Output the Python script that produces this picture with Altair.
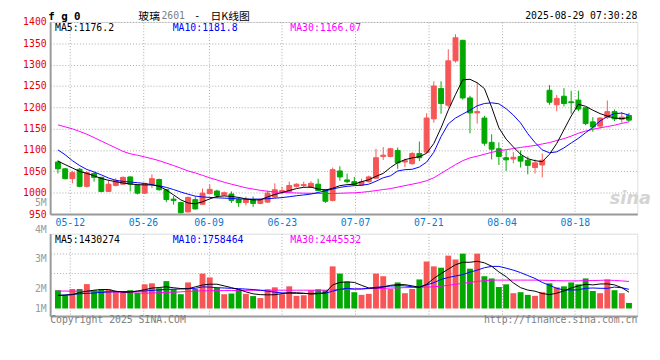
import altair as alt
import pandas as pd

# ---------------- data ----------------
idx = list(range(80))

opens = [1072, 1056, 1033, 1055, 1015, 1045, 1036, 1003, 1017, 1020,
         1037, 1018, 999, 1020, 1031, 1007, 985, 977, 955, 984,
         973, 998, 1004, 995, 997, 984, 977, 984, 975, 978,
         990, 1003, 1003, 1015, 1017, 1013, 1020, 1007, 982, 1051,
         1030, 1026, 1018, 1026, 1034, 1085, 1085, 1099, 1072, 1068,
         1092, 1095, 1173, 1244, 1205, 1309, 1357, 1222, 1187, 1175,
         1118, 1103, 1082, 1079, 1085, 1076, 1059, 1065, 1240, 1206,
         1226, 1213, 1217, 1199, 1166, 1156, 1176, 1190, 1172, 1181]
highs = [1076, 1058, 1051, 1058, 1050, 1048, 1037, 1030, 1034, 1038,
         1038, 1020, 1023, 1043, 1033, 1009, 992, 979, 991, 991,
         1010, 1020, 1007, 1003, 1003, 990, 991, 991, 986, 1005,
         1022, 1014, 1026, 1022, 1026, 1027, 1033, 1009, 1059, 1062,
         1045, 1037, 1033, 1040, 1103, 1107, 1105, 1106, 1080, 1095,
         1120, 1186, 1261, 1261, 1336, 1371, 1358, 1227, 1258, 1180,
         1137, 1118, 1099, 1095, 1099, 1085, 1078, 1092, 1252, 1229,
         1245, 1239, 1239, 1200, 1177, 1177, 1216, 1195, 1189, 1187]
lows = [1045, 1031, 1022, 1013, 1012, 1026, 1001, 1002, 1015, 1019,
        1003, 996, 997, 1011, 1005, 978, 972, 952, 954, 961,
        972, 996, 988, 993, 976, 967, 970, 967, 973, 977,
        988, 996, 1001, 1012, 1012, 1011, 1003, 976, 980, 1028,
        1022, 1017, 1016, 1024, 1032, 1077, 1083, 1056, 1060, 1066,
        1074, 1093, 1164, 1185, 1200, 1305, 1218, 1139, 1162, 1110,
        1078, 1065, 1051, 1069, 1059, 1043, 1045, 1036, 1206, 1191,
        1202, 1185, 1191, 1158, 1143, 1150, 1173, 1168, 1164, 1166]
closes = [1056, 1033, 1047, 1015, 1047, 1036, 1003, 1020, 1028, 1036,
          1020, 999, 1022, 1033, 1007, 984, 982, 953, 989, 962,
          999, 1008, 994, 1000, 982, 977, 984, 975, 984, 999,
          1007, 1005, 1017, 1020, 1019, 1022, 1005, 980, 1054, 1037,
          1026, 1019, 1026, 1037, 1082, 1088, 1103, 1070, 1075, 1092,
          1082, 1175, 1250, 1209, 1309, 1363, 1222, 1187, 1190, 1116,
          1102, 1085, 1077, 1083, 1074, 1064, 1070, 1076, 1212, 1221,
          1209, 1211, 1196, 1162, 1154, 1175, 1190, 1173, 1177, 1170]

ma5 = [1074.0, 1065.9, 1057.9, 1049.9, 1045.3, 1039.6, 1033.4, 1029.2, 1025.8, 1022.8,
       1020.5, 1018.9, 1018.4, 1018.2, 1015.4, 1006.3, 994.8, 983.3, 976.0, 974.1,
       978.7, 985.6, 991.3, 992.5, 991.3, 989.0, 985.6, 983.3, 983.3, 990.2,
       995.9, 1000.5, 1005.1, 1009.7, 1012.7, 1013.1, 1008.6, 1006.3, 1010.4, 1016.6,
       1018.9, 1020.0, 1025.8, 1030.4, 1038.4, 1045.3, 1059.1, 1070.5, 1077.4, 1081.6,
       1084.3, 1092.4, 1115.3, 1152.0, 1193.4, 1230.1, 1264.5, 1265.7, 1257.6, 1243.9,
       1200.3, 1152.0, 1125.6, 1107.3, 1090.1, 1079.7, 1075.1, 1072.8, 1090.1, 1115.3,
       1147.5, 1179.6, 1207.1, 1202.5, 1193.4, 1185.3, 1179.6, 1175.0, 1173.4, 1176.2]
ma10 = [1100.4, 1088.9, 1075.1, 1063.7, 1054.5, 1048.7, 1041.8, 1034.5, 1029.2, 1026.5,
        1025.1, 1023.5, 1021.6, 1018.9, 1016.1, 1012.5, 1007.4, 1001.7, 996.6, 992.0,
        990.2, 989.0, 988.1, 987.4, 986.5, 985.6, 985.1, 985.1, 985.1, 986.1,
        987.2, 988.6, 990.7, 992.9, 994.8, 996.9, 1000.5, 1004.4, 1008.8, 1012.5,
        1015.0, 1016.6, 1017.5, 1020.0, 1026.9, 1035.0, 1039.6, 1051.0, 1054.0, 1054.9,
        1060.2, 1071.7, 1094.7, 1131.4, 1161.2, 1175.0, 1184.2, 1193.4, 1203.7, 1209.0,
        1210.6, 1208.3, 1196.8, 1181.9, 1163.5, 1138.3, 1117.6, 1100.4, 1093.5, 1095.8,
        1105.0, 1116.5, 1127.5, 1140.6, 1153.2, 1168.1, 1178.4, 1185.3, 1186.5, 1181.8]
ma30 = [1158.9, 1154.3, 1149.7, 1143.5, 1137.1, 1129.1, 1121.0, 1113.0, 1105.0, 1096.9,
        1091.2, 1087.8, 1083.9, 1079.7, 1075.1, 1069.4, 1063.7, 1057.5, 1051.0, 1046.4,
        1040.7, 1035.0, 1029.9, 1024.6, 1020.0, 1015.9, 1011.5, 1008.6, 1005.6, 1003.5,
        1001.7, 1001.0, 1000.1, 999.4, 998.9, 998.7, 998.5, 998.2, 998.2, 998.7,
        999.4, 999.8, 1001.0, 1002.8, 1005.1, 1007.4, 1009.7, 1013.1, 1016.6, 1020.0,
        1023.5, 1028.1, 1035.0, 1045.3, 1055.6, 1065.9, 1075.1, 1081.6, 1085.5, 1090.1,
        1094.6, 1098.1, 1100.8, 1103.4, 1106.1, 1108.4, 1110.7, 1114.2, 1117.6, 1122.2,
        1126.8, 1132.5, 1139.4, 1144.5, 1148.6, 1152.0, 1155.0, 1158.2, 1162.4, 1166.07]

# volume in millions
vols = [1.65, 1.18, 1.76, 1.76, 2.20, 1.65, 1.73, 1.73, 1.56, 1.56,
        1.65, 1.41, 2.18, 2.27, 1.82, 2.47, 1.73, 1.29, 2.35, 1.76,
        3.15, 2.80, 1.85, 1.29, 1.35, 1.73, 1.32, 1.12, 0.94, 1.73,
        1.91, 1.29, 2.00, 1.14, 1.20, 1.65, 1.73, 1.65, 3.80, 3.15,
        2.42, 1.47, 1.23, 1.32, 3.15, 2.91, 1.76, 2.35, 1.38, 1.76,
        2.62, 4.24, 3.80, 3.68, 4.77, 4.42, 4.95, 3.59, 4.95, 2.91,
        2.71, 1.94, 2.18, 1.38, 1.47, 1.23, 1.14, 1.47, 2.27, 1.91,
        2.00, 2.35, 2.18, 2.71, 1.58, 1.38, 2.62, 1.65, 1.38, 0.50]
vma5 = [1.18, 1.20, 1.25, 1.44, 1.56, 1.65, 1.71, 1.71, 1.56, 1.47,
        1.47, 1.58, 1.69, 1.84, 1.89, 1.96, 1.87, 1.80, 1.78, 1.95,
        2.12, 2.19, 2.19, 2.04, 1.88, 1.71, 1.50, 1.32, 1.25, 1.23,
        1.24, 1.34, 1.42, 1.42, 1.38, 1.30, 1.34, 1.42, 2.13, 2.35,
        2.40, 2.35, 2.09, 1.85, 1.84, 1.94, 2.09, 2.16, 2.15, 2.04,
        1.91, 2.18, 2.71, 3.15, 3.55, 3.95, 4.17, 4.17, 4.26, 4.12,
        3.81, 3.30, 2.87, 2.31, 1.88, 1.66, 1.56, 1.35, 1.25, 1.38,
        1.59, 1.85, 2.04, 2.18, 2.13, 2.21, 2.22, 2.13, 1.88, 1.47]
vma10 = [1.18, 1.22, 1.27, 1.33, 1.36, 1.40, 1.45, 1.49, 1.52, 1.53,
         1.53, 1.55, 1.58, 1.63, 1.68, 1.72, 1.74, 1.76, 1.79, 1.82,
         1.95, 1.93, 1.88, 1.85, 1.82, 1.79, 1.75, 1.71, 1.65, 1.56,
         1.47, 1.41, 1.38, 1.36, 1.35, 1.36, 1.37, 1.38, 1.56, 1.73,
         1.82, 1.76, 1.76, 1.82, 1.91, 1.97, 2.02, 2.07, 2.04, 1.96,
         1.91, 2.13, 2.33, 2.62, 2.80, 2.93, 3.06, 3.28, 3.46, 3.68,
         3.80, 3.80, 3.64, 3.46, 3.24, 2.97, 2.71, 2.35, 2.09, 1.82,
         1.67, 1.67, 1.69, 1.82, 1.85, 1.82, 1.82, 1.93, 1.87, 1.73]
vma30 = [1.58, 1.57, 1.56, 1.56, 1.55, 1.54, 1.53, 1.51, 1.49, 1.45,
         1.42, 1.40, 1.38, 1.40, 1.42, 1.45, 1.47, 1.50, 1.54, 1.58,
         1.59, 1.60, 1.61, 1.62, 1.62, 1.63, 1.63, 1.64, 1.64, 1.64,
         1.65, 1.65, 1.65, 1.65, 1.65, 1.65, 1.65, 1.65, 1.68, 1.71,
         1.73, 1.75, 1.77, 1.79, 1.80, 1.82, 1.84, 1.86, 1.88, 1.89,
         1.91, 1.93, 1.96, 2.02, 2.09, 2.18, 2.27, 2.35, 2.44, 2.51,
         2.56, 2.56, 2.56, 2.56, 2.56, 2.56, 2.56, 2.55, 2.53, 2.51,
         2.50, 2.49, 2.50, 2.51, 2.52, 2.54, 2.56, 2.53, 2.49, 2.44]

date_ticks = [1.64, 11.77, 20.84, 30.97, 41.11, 51.24, 61.37, 71.51]
date_labels = ["05-12", "05-26", "06-09", "06-23", "07-07", "07-21", "08-04", "08-18"]
price_ticks = [950, 1000, 1050, 1100, 1150, 1200, 1250, 1300, 1350, 1400]
vol_ticks = [6.75, 6.749, 4.48, 1.82, -0.035]
vol_tick_labels = ["5M", "4M", "3M", "2M", "1M"]
vol_grid = [4.92, 3.15]

# ---------------- styling ----------------
RED = "#f65656"
GREEN = "#00a800"
GRID = "#a8a8a8"
FRAME = "#9a9a9a"
BLUE_LBL = "#0a7ad2"
MONO = "DejaVu Sans Mono"
CJK = "Noto Sans CJK SC"

df = pd.DataFrame({"i": idx, "open": opens, "high": highs, "low": lows, "close": closes,
                   "vol": vols, "ma5": ma5, "ma10": ma10, "ma30": ma30,
                   "vma5": vma5, "vma10": vma10, "vma30": vma30})
df["dir"] = ["up" if c >= o else "down" for o, c in zip(opens, closes)]

color_scale = alt.Scale(domain=["up", "down"], range=[RED, GREEN])

# x label expression (ternary on midpoints)
expr = "'" + date_labels[-1] + "'"
for k in range(len(date_ticks) - 2, -1, -1):
    mid = (date_ticks[k] + date_ticks[k + 1]) / 2
    expr = f"datum.value < {mid:.3f} ? '{date_labels[k]}' : ({expr})"

vexpr = "datum.value > 6.7495 ? '{}' : datum.value > 6.7 ? '{}' : datum.value > 4 ? '{}' : datum.value > 1 ? '{}' : '{}'".format(*vol_tick_labels)

x_scale = alt.Scale(domain=[-0.4, 79.47], nice=False, zero=False)
x_axis_main = alt.Axis(values=date_ticks, labelExpr=expr, title=None, ticks=False,
                       labelColor=BLUE_LBL, labelFont=MONO, labelFontSize=10, labelPadding=4,
                       grid=True, gridColor=GRID, gridDash=[1, 2], domainColor=FRAME,
                       domainWidth=2, labelFlush=False, labelOverlap=False)
x_axis_vol = alt.Axis(values=date_ticks, labels=False, title=None, ticks=False,
                      grid=True, gridColor=GRID, gridDash=[1, 2], domainColor=FRAME,
                      domainWidth=2)
y_scale_main = alt.Scale(domain=[950, 1400], nice=False, zero=False)
y_axis_main = alt.Axis(values=price_ticks, format="d", title=None, ticks=False,
                       labelColor="#e60000", labelFont=MONO, labelFontSize=10, labelPadding=4,
                       grid=True, gridColor=GRID, gridDash=[1, 2], domainColor=FRAME,
                       domainWidth=2, labelOverlap=False)
y_scale_vol = alt.Scale(domain=[-0.68, 6.75], nice=False, zero=False)
y_axis_vol = alt.Axis(values=vol_ticks, labelExpr=vexpr, title=None, ticks=False,
                      labelColor="#9a9a9a", labelFont=MONO, labelFontSize=10, labelPadding=4,
                      grid=False, domainColor=FRAME, domainWidth=2, labelOverlap=False,
                      labelOffset={"condition": [{"test": "datum.value > 6.7495", "value": -32},
                                                 {"test": "datum.value > 6.7", "value": -4}],
                                   "value": 0})


def XM():
    return alt.X("i:Q", scale=x_scale, axis=x_axis_main)


def XV():
    return alt.X("i:Q", scale=x_scale, axis=x_axis_vol)


def YM(f):
    return alt.Y(f"{f}:Q", scale=y_scale_main, axis=y_axis_main)


def YV(f):
    return alt.Y(f"{f}:Q", scale=y_scale_vol, axis=y_axis_vol)


one = alt.Data(values=[{"a": 1}])


def txt(s, x, y, color="black", size=10, font=MONO, align="left", weight="normal",
        style="normal", baseline="alphabetic"):
    return alt.Chart(one).mark_text(text=s, align=align, baseline=baseline, color=color,
                                    fontSize=size, font=font, fontWeight=weight,
                                    fontStyle=style).encode(x=alt.value(x), y=alt.value(y))


base = alt.Chart(df)
cdir = alt.Color("dir:N", scale=color_scale, legend=None)
sdir = alt.Stroke("dir:N", scale=color_scale, legend=None)

wick = base.mark_rule(strokeWidth=1).encode(x=XM(), y=YM("low"), y2="high:Q", color=cdir)
body = base.mark_bar(size=5, strokeWidth=1).encode(x=XM(), y=YM("open"), y2="close:Q",
                                                   color=cdir, stroke=sdir)
l30 = base.mark_line(color="#ff00ff", strokeWidth=1).encode(x=XM(), y=YM("ma30"))
l10 = base.mark_line(color="#0000ff", strokeWidth=1).encode(x=XM(), y=YM("ma10"))
l5 = base.mark_line(color="black", strokeWidth=1).encode(x=XM(), y=YM("ma5"))

HT = -11  # header top, relative to the main plot's top edge
main = alt.layer(
    wick, body, l30, l10, l5,
    txt("sina", 571, 186, color="#d4d4d4", size=18, font="DejaVu Sans", weight="bold", style="italic"),
    txt("MA5:1176.2", 5, 9.5),
    txt("MA10:1181.8", 125, 9.5, color="#0000ff"),
    txt("MA30:1166.07", 245, 9.5, color="#ff00ff"),
    txt("f g 0", -2, HT, size=11, weight="bold", baseline="top"),
    txt("玻璃", 90, HT, size=11, font=CJK, baseline="top"),
    txt("2601", 113.5, HT, color="#808080", size=10, baseline="top"),
    txt("-", 150, HT, size=10, align="center", baseline="top"),
    txt("日K线图", 163.5, HT, size=11, font=CJK, baseline="top"),
    txt("2025-08-29 07:30:28", 599, HT, align="right", baseline="top"),
).properties(width=599, height=196)

vgrid = alt.Chart(pd.DataFrame({"g": vol_grid})).mark_rule(
    color=GRID, strokeDash=[1, 2], strokeWidth=1).encode(y=YV("g"))
vbars = base.mark_bar(size=6).encode(x=XV(), y=YV("vol"), color=cdir)
v30 = base.mark_line(color="#ff00ff", strokeWidth=1).encode(x=XV(), y=YV("vma30"))
v10 = base.mark_line(color="#0000ff", strokeWidth=1).encode(x=XV(), y=YV("vma10"))
v5 = base.mark_line(color="black", strokeWidth=1).encode(x=XV(), y=YV("vma5"))

vol = alt.layer(
    vgrid, vbars, v30, v10, v5,
    txt("MA5:1430274", 5, 9),
    txt("MA10:1758464", 125, 9, color="#0000ff"),
    txt("MA30:2445532", 245, 9, color="#ff00ff"),
    txt("Copyright 2025 SINA.COM", 0, 91.5, color="#808080"),
    txt("http://finance.sina.com.cn", 599, 91.5, color="#808080", align="right"),
).properties(width=599, height=84)

chart = alt.vconcat(main, vol, spacing=20, bounds="flush").properties(
    padding={"left": 14, "top": -1, "right": 0, "bottom": 0}
).configure_view(stroke=FRAME, strokeWidth=1).configure(background="white")

chart.save("out.html", embed_options={"renderer": "svg", "actions": False})
